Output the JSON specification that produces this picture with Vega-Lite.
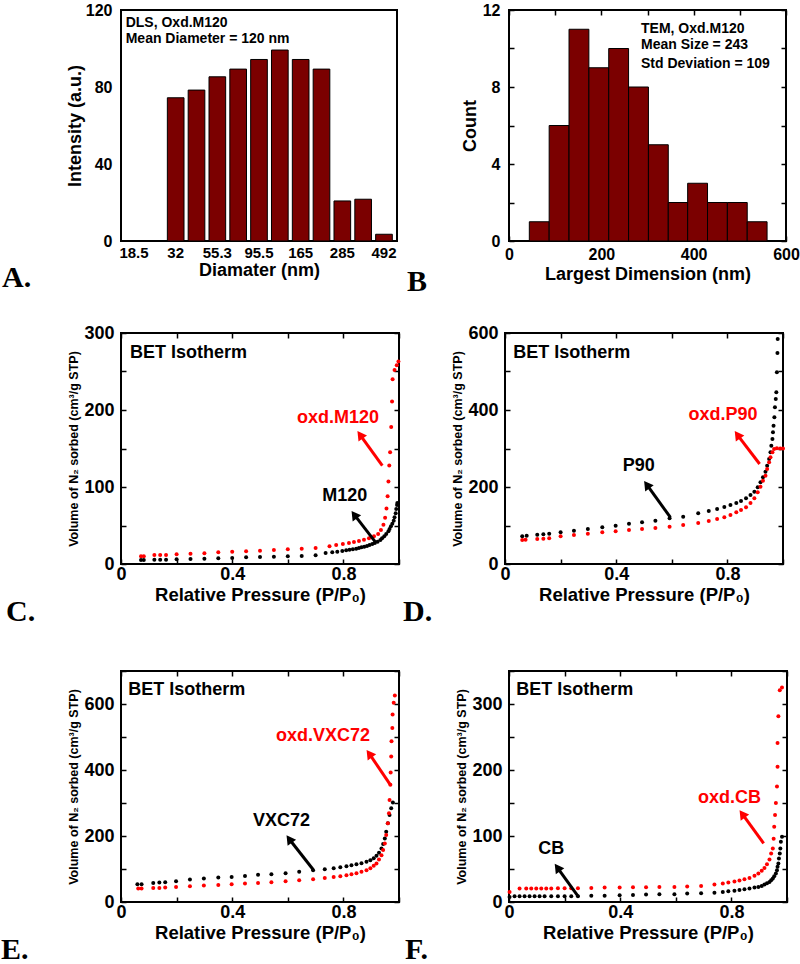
{
"$schema": "https://vega.github.io/schema/vega-lite/v6.json",
"background": "white",
"padding": {"left": 0, "top": 1, "right": 0, "bottom": 0},
"datasets": {
"dls": [{"diameter":"32","intensity":74.4},{"diameter":"42.1","intensity":78.4},{"diameter":"55.3","intensity":85.3},{"diameter":"72.7","intensity":89.3},{"diameter":"95.5","intensity":94.3},{"diameter":"125","intensity":99.2},{"diameter":"165","intensity":94.3},{"diameter":"218","intensity":89.3},{"diameter":"285","intensity":20.8},{"diameter":"376","intensity":21.7},{"diameter":"492","intensity":3.5}],
"dlsNotes": [{"cat":"18.5","y":113.4,"note":"DLS, Oxd.M120"},{"cat":"18.5","y":104.8,"note":"Mean Diameter  = 120 nm"}],
"tem": [{"start":44,"end":87,"count":1},{"start":87,"end":130,"count":6},{"start":130,"end":173,"count":11},{"start":173,"end":216,"count":9},{"start":216,"end":259,"count":10},{"start":259,"end":302,"count":8},{"start":302,"end":345,"count":5},{"start":345,"end":387,"count":2},{"start":387,"end":430,"count":3},{"start":430,"end":473,"count":2},{"start":473,"end":516,"count":2},{"start":516,"end":559,"count":1}],
"temNotes": [{"x":286,"y":11.03,"note":"TEM, Oxd.M120"},{"x":286,"y":10.17,"note":"Mean Size = 243"},{"x":286,"y":9.22,"note":"Std Deviation = 109"}],
"iso": [
{"panel":"C","kind":"oxidized","p":0.072,"v":10},{"panel":"C","kind":"oxidized","p":0.082,"v":10},{"panel":"C","kind":"oxidized","p":0.12,"v":11.7},{"panel":"C","kind":"oxidized","p":0.141,"v":11.7},{"panel":"C","kind":"oxidized","p":0.162,"v":11.7},{"panel":"C","kind":"oxidized","p":0.2,"v":12.6},{"panel":"C","kind":"oxidized","p":0.25,"v":13.4},{"panel":"C","kind":"oxidized","p":0.3,"v":13.9},{"panel":"C","kind":"oxidized","p":0.35,"v":15.2},{"panel":"C","kind":"oxidized","p":0.4,"v":16},{"panel":"C","kind":"oxidized","p":0.45,"v":16.5},{"panel":"C","kind":"oxidized","p":0.5,"v":17.3},{"panel":"C","kind":"oxidized","p":0.55,"v":18.2},{"panel":"C","kind":"oxidized","p":0.6,"v":19},{"panel":"C","kind":"oxidized","p":0.65,"v":19.9},{"panel":"C","kind":"oxidized","p":0.7,"v":20.8},{"panel":"C","kind":"oxidized","p":0.75,"v":23},{"panel":"C","kind":"oxidized","p":0.774,"v":24.7},{"panel":"C","kind":"oxidized","p":0.798,"v":26},{"panel":"C","kind":"oxidized","p":0.82,"v":27.3},{"panel":"C","kind":"oxidized","p":0.838,"v":28.6},{"panel":"C","kind":"oxidized","p":0.856,"v":29.9},{"panel":"C","kind":"oxidized","p":0.874,"v":31.6},{"panel":"C","kind":"oxidized","p":0.892,"v":33.3},{"panel":"C","kind":"oxidized","p":0.91,"v":35.9},{"panel":"C","kind":"oxidized","p":0.925,"v":39},{"panel":"C","kind":"oxidized","p":0.935,"v":44},{"panel":"C","kind":"oxidized","p":0.944,"v":51},{"panel":"C","kind":"oxidized","p":0.95,"v":60},{"panel":"C","kind":"oxidized","p":0.955,"v":72},{"panel":"C","kind":"oxidized","p":0.959,"v":88},{"panel":"C","kind":"oxidized","p":0.962,"v":107},{"panel":"C","kind":"oxidized","p":0.965,"v":128},{"panel":"C","kind":"oxidized","p":0.968,"v":145},{"panel":"C","kind":"oxidized","p":0.972,"v":178},{"panel":"C","kind":"oxidized","p":0.975,"v":211},{"panel":"C","kind":"oxidized","p":0.977,"v":240},{"panel":"C","kind":"oxidized","p":0.984,"v":252},{"panel":"C","kind":"oxidized","p":0.992,"v":258},{"panel":"C","kind":"oxidized","p":0.998,"v":263},
{"panel":"C","kind":"pristine","p":0.072,"v":5.2},{"panel":"C","kind":"pristine","p":0.082,"v":5.2},{"panel":"C","kind":"pristine","p":0.12,"v":5.6},{"panel":"C","kind":"pristine","p":0.141,"v":5.6},{"panel":"C","kind":"pristine","p":0.162,"v":5.6},{"panel":"C","kind":"pristine","p":0.2,"v":6.1},{"panel":"C","kind":"pristine","p":0.25,"v":6.5},{"panel":"C","kind":"pristine","p":0.3,"v":6.9},{"panel":"C","kind":"pristine","p":0.35,"v":7.4},{"panel":"C","kind":"pristine","p":0.4,"v":7.8},{"panel":"C","kind":"pristine","p":0.45,"v":8.7},{"panel":"C","kind":"pristine","p":0.5,"v":9.1},{"panel":"C","kind":"pristine","p":0.55,"v":9.5},{"panel":"C","kind":"pristine","p":0.6,"v":10},{"panel":"C","kind":"pristine","p":0.65,"v":10.4},{"panel":"C","kind":"pristine","p":0.7,"v":11.3},{"panel":"C","kind":"pristine","p":0.736,"v":14.3},{"panel":"C","kind":"pristine","p":0.76,"v":15.2},{"panel":"C","kind":"pristine","p":0.778,"v":16},{"panel":"C","kind":"pristine","p":0.796,"v":16.9},{"panel":"C","kind":"pristine","p":0.81,"v":17.7},{"panel":"C","kind":"pristine","p":0.822,"v":18.6},{"panel":"C","kind":"pristine","p":0.834,"v":19},{"panel":"C","kind":"pristine","p":0.846,"v":19.9},{"panel":"C","kind":"pristine","p":0.856,"v":20.8},{"panel":"C","kind":"pristine","p":0.865,"v":21.6},{"panel":"C","kind":"pristine","p":0.875,"v":22.5},{"panel":"C","kind":"pristine","p":0.885,"v":23.4},{"panel":"C","kind":"pristine","p":0.894,"v":24.7},{"panel":"C","kind":"pristine","p":0.904,"v":26},{"panel":"C","kind":"pristine","p":0.913,"v":27.3},{"panel":"C","kind":"pristine","p":0.923,"v":29},{"panel":"C","kind":"pristine","p":0.933,"v":31.2},{"panel":"C","kind":"pristine","p":0.939,"v":33.3},{"panel":"C","kind":"pristine","p":0.947,"v":35.9},{"panel":"C","kind":"pristine","p":0.954,"v":39},{"panel":"C","kind":"pristine","p":0.962,"v":42.4},{"panel":"C","kind":"pristine","p":0.966,"v":45.5},{"panel":"C","kind":"pristine","p":0.971,"v":48.9},{"panel":"C","kind":"pristine","p":0.976,"v":52.4},{"panel":"C","kind":"pristine","p":0.981,"v":56.3},{"panel":"C","kind":"pristine","p":0.984,"v":60.6},{"panel":"C","kind":"pristine","p":0.988,"v":65.8},{"panel":"C","kind":"pristine","p":0.99,"v":71.4},{"panel":"C","kind":"pristine","p":0.993,"v":76.6},{"panel":"C","kind":"pristine","p":0.994,"v":79.2},
{"panel":"D","kind":"pristine","p":0.062,"v":71.9},{"panel":"D","kind":"pristine","p":0.078,"v":73.6},{"panel":"D","kind":"pristine","p":0.116,"v":76.2},{"panel":"D","kind":"pristine","p":0.138,"v":77.1},{"panel":"D","kind":"pristine","p":0.159,"v":78.8},{"panel":"D","kind":"pristine","p":0.2,"v":82.3},{"panel":"D","kind":"pristine","p":0.248,"v":86.6},{"panel":"D","kind":"pristine","p":0.298,"v":90.9},{"panel":"D","kind":"pristine","p":0.35,"v":95.2},{"panel":"D","kind":"pristine","p":0.398,"v":99.6},{"panel":"D","kind":"pristine","p":0.446,"v":104.8},{"panel":"D","kind":"pristine","p":0.493,"v":108.2},{"panel":"D","kind":"pristine","p":0.541,"v":112.6},{"panel":"D","kind":"pristine","p":0.592,"v":118.6},{"panel":"D","kind":"pristine","p":0.641,"v":122.9},{"panel":"D","kind":"pristine","p":0.695,"v":131.6},{"panel":"D","kind":"pristine","p":0.733,"v":137.7},{"panel":"D","kind":"pristine","p":0.763,"v":142.9},{"panel":"D","kind":"pristine","p":0.789,"v":148},{"panel":"D","kind":"pristine","p":0.811,"v":153.2},{"panel":"D","kind":"pristine","p":0.832,"v":158.4},{"panel":"D","kind":"pristine","p":0.849,"v":163.6},{"panel":"D","kind":"pristine","p":0.867,"v":170.6},{"panel":"D","kind":"pristine","p":0.883,"v":179.2},{"panel":"D","kind":"pristine","p":0.897,"v":187.9},{"panel":"D","kind":"pristine","p":0.909,"v":199.1},{"panel":"D","kind":"pristine","p":0.919,"v":212.1},{"panel":"D","kind":"pristine","p":0.928,"v":225.1},{"panel":"D","kind":"pristine","p":0.937,"v":239.8},{"panel":"D","kind":"pristine","p":0.943,"v":255.4},{"panel":"D","kind":"pristine","p":0.95,"v":272.7},{"panel":"D","kind":"pristine","p":0.955,"v":290},{"panel":"D","kind":"pristine","p":0.958,"v":307.4},{"panel":"D","kind":"pristine","p":0.962,"v":324.7},{"panel":"D","kind":"pristine","p":0.964,"v":342},{"panel":"D","kind":"pristine","p":0.966,"v":359.3},{"panel":"D","kind":"pristine","p":0.969,"v":381},{"panel":"D","kind":"pristine","p":0.971,"v":406.9},{"panel":"D","kind":"pristine","p":0.974,"v":428.6},{"panel":"D","kind":"pristine","p":0.976,"v":445.9},{"panel":"D","kind":"pristine","p":0.978,"v":497.8},{"panel":"D","kind":"pristine","p":0.98,"v":548},{"panel":"D","kind":"pristine","p":0.981,"v":584.4},
{"panel":"D","kind":"oxidized","p":0.062,"v":62.3},{"panel":"D","kind":"oxidized","p":0.074,"v":63.2},{"panel":"D","kind":"oxidized","p":0.116,"v":64.9},{"panel":"D","kind":"oxidized","p":0.138,"v":65.8},{"panel":"D","kind":"oxidized","p":0.159,"v":66.7},{"panel":"D","kind":"oxidized","p":0.2,"v":71.9},{"panel":"D","kind":"oxidized","p":0.248,"v":75.3},{"panel":"D","kind":"oxidized","p":0.298,"v":78.8},{"panel":"D","kind":"oxidized","p":0.35,"v":82.3},{"panel":"D","kind":"oxidized","p":0.398,"v":84.8},{"panel":"D","kind":"oxidized","p":0.446,"v":88.3},{"panel":"D","kind":"oxidized","p":0.493,"v":90.9},{"panel":"D","kind":"oxidized","p":0.541,"v":93.5},{"panel":"D","kind":"oxidized","p":0.592,"v":97},{"panel":"D","kind":"oxidized","p":0.641,"v":101.3},{"panel":"D","kind":"oxidized","p":0.695,"v":106.5},{"panel":"D","kind":"oxidized","p":0.733,"v":111.7},{"panel":"D","kind":"oxidized","p":0.763,"v":116.9},{"panel":"D","kind":"oxidized","p":0.789,"v":121.2},{"panel":"D","kind":"oxidized","p":0.811,"v":127.3},{"panel":"D","kind":"oxidized","p":0.832,"v":134.2},{"panel":"D","kind":"oxidized","p":0.849,"v":140.3},{"panel":"D","kind":"oxidized","p":0.867,"v":147.2},{"panel":"D","kind":"oxidized","p":0.883,"v":158.4},{"panel":"D","kind":"oxidized","p":0.897,"v":170.6},{"panel":"D","kind":"oxidized","p":0.909,"v":186.1},{"panel":"D","kind":"oxidized","p":0.919,"v":200.9},{"panel":"D","kind":"oxidized","p":0.928,"v":216.5},{"panel":"D","kind":"oxidized","p":0.937,"v":229.4},{"panel":"D","kind":"oxidized","p":0.943,"v":246.8},{"panel":"D","kind":"oxidized","p":0.95,"v":264},{"panel":"D","kind":"oxidized","p":0.955,"v":277},{"panel":"D","kind":"oxidized","p":0.962,"v":290},{"panel":"D","kind":"oxidized","p":0.968,"v":298.7},{"panel":"D","kind":"oxidized","p":0.978,"v":300.4},{"panel":"D","kind":"oxidized","p":0.99,"v":300},{"panel":"D","kind":"oxidized","p":1.0,"v":300},
{"panel":"E","kind":"pristine","p":0.059,"v":53.8},{"panel":"E","kind":"pristine","p":0.074,"v":53.8},{"panel":"E","kind":"pristine","p":0.116,"v":57.8},{"panel":"E","kind":"pristine","p":0.138,"v":58.8},{"panel":"E","kind":"pristine","p":0.159,"v":59.9},{"panel":"E","kind":"pristine","p":0.198,"v":62.9},{"panel":"E","kind":"pristine","p":0.248,"v":68},{"panel":"E","kind":"pristine","p":0.298,"v":71},{"panel":"E","kind":"pristine","p":0.35,"v":74.1},{"panel":"E","kind":"pristine","p":0.398,"v":76.1},{"panel":"E","kind":"pristine","p":0.446,"v":79.1},{"panel":"E","kind":"pristine","p":0.493,"v":82.2},{"panel":"E","kind":"pristine","p":0.541,"v":84.2},{"panel":"E","kind":"pristine","p":0.592,"v":87.2},{"panel":"E","kind":"pristine","p":0.641,"v":91.3},{"panel":"E","kind":"pristine","p":0.691,"v":96.4},{"panel":"E","kind":"pristine","p":0.733,"v":99.4},{"panel":"E","kind":"pristine","p":0.765,"v":102.5},{"panel":"E","kind":"pristine","p":0.789,"v":105.5},{"panel":"E","kind":"pristine","p":0.811,"v":108.6},{"panel":"E","kind":"pristine","p":0.829,"v":111.6},{"panel":"E","kind":"pristine","p":0.847,"v":114.6},{"panel":"E","kind":"pristine","p":0.865,"v":117.7},{"panel":"E","kind":"pristine","p":0.883,"v":121.7},{"panel":"E","kind":"pristine","p":0.897,"v":126.8},{"panel":"E","kind":"pristine","p":0.909,"v":132.9},{"panel":"E","kind":"pristine","p":0.919,"v":140},{"panel":"E","kind":"pristine","p":0.928,"v":149.1},{"panel":"E","kind":"pristine","p":0.937,"v":162.3},{"panel":"E","kind":"pristine","p":0.943,"v":175.5},{"panel":"E","kind":"pristine","p":0.949,"v":192.8},{"panel":"E","kind":"pristine","p":0.954,"v":213},{"panel":"E","kind":"pristine","p":0.96,"v":238.4},{"panel":"E","kind":"pristine","p":0.966,"v":263.8},{"panel":"E","kind":"pristine","p":0.972,"v":284},{"panel":"E","kind":"pristine","p":0.978,"v":301.3},
{"panel":"E","kind":"oxidized","p":0.062,"v":40.6},{"panel":"E","kind":"oxidized","p":0.074,"v":40.6},{"panel":"E","kind":"oxidized","p":0.116,"v":42.6},{"panel":"E","kind":"oxidized","p":0.138,"v":42.6},{"panel":"E","kind":"oxidized","p":0.159,"v":43.6},{"panel":"E","kind":"oxidized","p":0.198,"v":45.7},{"panel":"E","kind":"oxidized","p":0.248,"v":47.7},{"panel":"E","kind":"oxidized","p":0.298,"v":49.7},{"panel":"E","kind":"oxidized","p":0.35,"v":51.7},{"panel":"E","kind":"oxidized","p":0.398,"v":53.8},{"panel":"E","kind":"oxidized","p":0.446,"v":55.8},{"panel":"E","kind":"oxidized","p":0.493,"v":57.8},{"panel":"E","kind":"oxidized","p":0.541,"v":59.9},{"panel":"E","kind":"oxidized","p":0.592,"v":62.9},{"panel":"E","kind":"oxidized","p":0.641,"v":65.9},{"panel":"E","kind":"oxidized","p":0.691,"v":69},{"panel":"E","kind":"oxidized","p":0.733,"v":73},{"panel":"E","kind":"oxidized","p":0.765,"v":76.1},{"panel":"E","kind":"oxidized","p":0.789,"v":78.1},{"panel":"E","kind":"oxidized","p":0.811,"v":81.2},{"panel":"E","kind":"oxidized","p":0.829,"v":84.2},{"panel":"E","kind":"oxidized","p":0.847,"v":87.2},{"panel":"E","kind":"oxidized","p":0.865,"v":91.3},{"panel":"E","kind":"oxidized","p":0.883,"v":96.4},{"panel":"E","kind":"oxidized","p":0.897,"v":102.5},{"panel":"E","kind":"oxidized","p":0.909,"v":109.6},{"panel":"E","kind":"oxidized","p":0.919,"v":116.7},{"panel":"E","kind":"oxidized","p":0.928,"v":128.8},{"panel":"E","kind":"oxidized","p":0.937,"v":142},{"panel":"E","kind":"oxidized","p":0.943,"v":157.2},{"panel":"E","kind":"oxidized","p":0.949,"v":177.5},{"panel":"E","kind":"oxidized","p":0.954,"v":202.9},{"panel":"E","kind":"oxidized","p":0.96,"v":238.4},{"panel":"E","kind":"oxidized","p":0.964,"v":268.8},{"panel":"E","kind":"oxidized","p":0.966,"v":309.4},{"panel":"E","kind":"oxidized","p":0.969,"v":355},{"panel":"E","kind":"oxidized","p":0.97,"v":392.6},{"panel":"E","kind":"oxidized","p":0.972,"v":441},{"panel":"E","kind":"oxidized","p":0.973,"v":487},{"panel":"E","kind":"oxidized","p":0.976,"v":527.5},{"panel":"E","kind":"oxidized","p":0.977,"v":568},{"panel":"E","kind":"oxidized","p":0.981,"v":603.6},{"panel":"E","kind":"oxidized","p":0.985,"v":626},
{"panel":"F","kind":"pristine","p":0.002,"v":7.6},{"panel":"F","kind":"pristine","p":0.02,"v":8.6},{"panel":"F","kind":"pristine","p":0.038,"v":8.6},{"panel":"F","kind":"pristine","p":0.056,"v":8.6},{"panel":"F","kind":"pristine","p":0.074,"v":8.6},{"panel":"F","kind":"pristine","p":0.092,"v":8.6},{"panel":"F","kind":"pristine","p":0.11,"v":8.6},{"panel":"F","kind":"pristine","p":0.128,"v":8.6},{"panel":"F","kind":"pristine","p":0.152,"v":8.6},{"panel":"F","kind":"pristine","p":0.176,"v":8.6},{"panel":"F","kind":"pristine","p":0.2,"v":8.6},{"panel":"F","kind":"pristine","p":0.224,"v":8.6},{"panel":"F","kind":"pristine","p":0.248,"v":8.6},{"panel":"F","kind":"pristine","p":0.296,"v":9.6},{"panel":"F","kind":"pristine","p":0.344,"v":9.6},{"panel":"F","kind":"pristine","p":0.398,"v":10.1},{"panel":"F","kind":"pristine","p":0.446,"v":10.7},{"panel":"F","kind":"pristine","p":0.493,"v":11.2},{"panel":"F","kind":"pristine","p":0.541,"v":11.7},{"panel":"F","kind":"pristine","p":0.595,"v":11.7},{"panel":"F","kind":"pristine","p":0.641,"v":12.7},{"panel":"F","kind":"pristine","p":0.691,"v":13.2},{"panel":"F","kind":"pristine","p":0.739,"v":14.2},{"panel":"F","kind":"pristine","p":0.769,"v":15.2},{"panel":"F","kind":"pristine","p":0.789,"v":16.2},{"panel":"F","kind":"pristine","p":0.811,"v":17.2},{"panel":"F","kind":"pristine","p":0.829,"v":18.3},{"panel":"F","kind":"pristine","p":0.847,"v":19.3},{"panel":"F","kind":"pristine","p":0.865,"v":20.3},{"panel":"F","kind":"pristine","p":0.883,"v":21.8},{"panel":"F","kind":"pristine","p":0.897,"v":22.8},{"panel":"F","kind":"pristine","p":0.909,"v":24.3},{"panel":"F","kind":"pristine","p":0.919,"v":26.4},{"panel":"F","kind":"pristine","p":0.928,"v":28.4},{"panel":"F","kind":"pristine","p":0.937,"v":30.4},{"panel":"F","kind":"pristine","p":0.943,"v":33},{"panel":"F","kind":"pristine","p":0.949,"v":35.5},{"panel":"F","kind":"pristine","p":0.954,"v":39.1},{"panel":"F","kind":"pristine","p":0.96,"v":43.1},{"panel":"F","kind":"pristine","p":0.964,"v":48.2},{"panel":"F","kind":"pristine","p":0.966,"v":53.3},{"panel":"F","kind":"pristine","p":0.969,"v":58.3},{"panel":"F","kind":"pristine","p":0.971,"v":65.9},{"panel":"F","kind":"pristine","p":0.974,"v":73.5},{"panel":"F","kind":"pristine","p":0.976,"v":81.2},{"panel":"F","kind":"pristine","p":0.978,"v":91.3},{"panel":"F","kind":"pristine","p":0.982,"v":98.9},
{"panel":"F","kind":"oxidized","p":0.002,"v":15.2},{"panel":"F","kind":"oxidized","p":0.038,"v":20.3},{"panel":"F","kind":"oxidized","p":0.062,"v":20.3},{"panel":"F","kind":"oxidized","p":0.08,"v":20.3},{"panel":"F","kind":"oxidized","p":0.098,"v":20.3},{"panel":"F","kind":"oxidized","p":0.116,"v":20.3},{"panel":"F","kind":"oxidized","p":0.134,"v":20.3},{"panel":"F","kind":"oxidized","p":0.152,"v":20.3},{"panel":"F","kind":"oxidized","p":0.176,"v":20.8},{"panel":"F","kind":"oxidized","p":0.2,"v":20.8},{"panel":"F","kind":"oxidized","p":0.224,"v":20.8},{"panel":"F","kind":"oxidized","p":0.248,"v":20.8},{"panel":"F","kind":"oxidized","p":0.296,"v":21.3},{"panel":"F","kind":"oxidized","p":0.344,"v":21.8},{"panel":"F","kind":"oxidized","p":0.398,"v":21.8},{"panel":"F","kind":"oxidized","p":0.446,"v":22.3},{"panel":"F","kind":"oxidized","p":0.493,"v":22.3},{"panel":"F","kind":"oxidized","p":0.541,"v":22.8},{"panel":"F","kind":"oxidized","p":0.595,"v":22.8},{"panel":"F","kind":"oxidized","p":0.641,"v":23.3},{"panel":"F","kind":"oxidized","p":0.691,"v":24.3},{"panel":"F","kind":"oxidized","p":0.739,"v":26.4},{"panel":"F","kind":"oxidized","p":0.769,"v":27.9},{"panel":"F","kind":"oxidized","p":0.789,"v":29.4},{"panel":"F","kind":"oxidized","p":0.811,"v":30.9},{"panel":"F","kind":"oxidized","p":0.829,"v":32.5},{"panel":"F","kind":"oxidized","p":0.847,"v":34.5},{"panel":"F","kind":"oxidized","p":0.865,"v":36.5},{"panel":"F","kind":"oxidized","p":0.883,"v":39.6},{"panel":"F","kind":"oxidized","p":0.897,"v":43.1},{"panel":"F","kind":"oxidized","p":0.909,"v":47.2},{"panel":"F","kind":"oxidized","p":0.919,"v":51.7},{"panel":"F","kind":"oxidized","p":0.928,"v":57.3},{"panel":"F","kind":"oxidized","p":0.937,"v":64.4},{"panel":"F","kind":"oxidized","p":0.943,"v":73.5},{"panel":"F","kind":"oxidized","p":0.949,"v":81},{"panel":"F","kind":"oxidized","p":0.952,"v":96},{"panel":"F","kind":"oxidized","p":0.954,"v":114},{"panel":"F","kind":"oxidized","p":0.957,"v":132},{"panel":"F","kind":"oxidized","p":0.96,"v":150},{"panel":"F","kind":"oxidized","p":0.964,"v":175},{"panel":"F","kind":"oxidized","p":0.966,"v":205},{"panel":"F","kind":"oxidized","p":0.966,"v":241},{"panel":"F","kind":"oxidized","p":0.969,"v":281.5},{"panel":"F","kind":"oxidized","p":0.974,"v":321},{"panel":"F","kind":"oxidized","p":0.982,"v":325}
],
"arrows": [
{"panel":"C","kind":"oxidized","p":0.94,"v":127.7,"p2":0.86,"v2":167.8},{"panel":"C","kind":"pristine","p":0.916,"v":28,"p2":0.839,"v2":64.1},
{"panel":"D","kind":"pristine","p":0.595,"v":121,"p2":0.51,"v2":206.1},{"panel":"D","kind":"oxidized","p":0.916,"v":259.7,"p2":0.836,"v2":335.6},
{"panel":"E","kind":"pristine","p":0.691,"v":98.4,"p2":0.605,"v2":190.8},{"panel":"E","kind":"oxidized","p":0.969,"v":355,"p2":0.893,"v2":449.5},
{"panel":"F","kind":"pristine","p":0.25,"v":7.6,"p2":0.174,"v2":52.2},{"panel":"F","kind":"oxidized","p":0.916,"v":88.8,"p2":0.839,"v2":133.4}
],
"labels": [
{"panel":"C","kind":"oxidized","text":"oxd.M120","p":0.781,"v":189},{"panel":"C","kind":"pristine","text":"M120","p":0.805,"v":88.7},
{"panel":"D","kind":"oxidized","text":"oxd.P90","p":0.784,"v":387},{"panel":"D","kind":"pristine","text":"P90","p":0.481,"v":255},
{"panel":"E","kind":"oxidized","text":"oxd.VXC72","p":0.727,"v":502},{"panel":"E","kind":"pristine","text":"VXC72","p":0.577,"v":246.5},
{"panel":"F","kind":"oxidized","text":"oxd.CB","p":0.793,"v":157.2},{"panel":"F","kind":"pristine","text":"CB","p":0.152,"v":79.6}
],
"frames": [
{"panel":"C","text":"BET Isotherm","p":0.032,"v":274},{"panel":"D","text":"BET Isotherm","p":0.03,"v":548},{"panel":"E","text":"BET Isotherm","p":0.026,"v":642},{"panel":"F","text":"BET Isotherm","p":0.026,"v":321}
]
},
"vconcat": [
{"concat": [
 {"width": 276, "height": 231,
  "title": {"text": "A.", "orient": "bottom", "anchor": "start", "frame": "group", "dx": -119, "offset": 8, "baseline": "alphabetic", "font": "Liberation Serif", "fontSize": 30, "fontWeight": "bold", "color": "#000"},
  "layer": [
   {"data": {"name": "dls"},
    "mark": {"type": "bar", "fill": "#7b0000", "stroke": "#000", "strokeWidth": 1},
    "encoding": {
     "x": {"field": "diameter", "type": "ordinal", "sort": null,
           "scale": {"domain": ["18.5","24.4","32","42.1","55.3","72.7","95.5","125","165","218","285","376","492"], "paddingInner": 0.2, "paddingOuter": 0.225},
           "axis": {"values": ["18.5","32","55.3","95.5","165","285","492"], "labelAngle": 0, "ticks": false, "labelPadding": 4, "labelFontSize": 15, "title": "Diamater (nm)", "titleFontSize": 18, "titlePadding": 1}},
     "y": {"field": "intensity", "type": "quantitative", "scale": {"domain": [0, 120], "nice": false},
           "axis": {"values": [0, 40, 80, 120], "ticks": false, "labelPadding": 9, "labelFontSize": 16, "title": "Intensity (a.u.)", "titleFontSize": 18, "titlePadding": 1}}
    }},
   {"data": {"name": "dlsNotes"},
    "mark": {"type": "text", "align": "left", "baseline": "middle", "fontSize": 14, "fontWeight": "bold", "font": "Liberation Sans", "color": "#000"},
    "encoding": {
     "x": {"field": "cat", "type": "ordinal", "bandPosition": 0},
     "y": {"field": "y", "type": "quantitative"},
     "text": {"field": "note"}
    }}
  ]},
 {"width": 277, "height": 231,
  "title": {"text": "B", "orient": "bottom", "anchor": "start", "frame": "group", "dx": -102, "offset": 8, "baseline": "alphabetic", "font": "Liberation Serif", "fontSize": 30, "fontWeight": "bold", "color": "#000"},
  "resolve": {"axis": {"x": "independent", "y": "independent"}},
  "layer": [
   {"data": {"name": "tem"},
    "mark": {"type": "bar", "fill": "#7b0000", "stroke": "#000", "strokeWidth": 1},
    "encoding": {
     "x": {"field": "start", "type": "quantitative", "scale": {"domain": [0, 600], "nice": false},
           "axis": {"orient": "bottom", "values": [0,100,200,300,400,500,600], "labelExpr": "indexof([0,200,400,600], datum.value) >= 0 ? datum.label : ''", "tickSize": -5, "tickWidth": 1.5, "labelPadding": 10, "labelFontSize": 16, "title": "Largest Dimension (nm)", "titleFontSize": 18, "titlePadding": 3}},
     "x2": {"field": "end"},
     "y": {"field": "count", "type": "quantitative", "scale": {"domain": [0, 12], "nice": false},
           "axis": {"orient": "left", "values": [0,2,4,6,8,10,12], "labelExpr": "indexof([0,4,8,12], datum.value) >= 0 ? datum.label : ''", "tickSize": -5, "tickWidth": 1.5, "labelPadding": 14, "labelFontSize": 16, "title": "Count", "titleFontSize": 18, "titlePadding": 3}},
     "y2": {"datum": 0}
    }},
   {"data": {"name": "temNotes"},
    "mark": {"type": "text", "align": "left", "baseline": "middle", "fontSize": 14, "fontWeight": "bold", "font": "Liberation Sans", "color": "#000"},
    "encoding": {
     "x": {"field": "x", "type": "quantitative", "axis": {"orient": "top", "values": [0,100,200,300,400,500,600], "labels": false, "tickSize": -5, "tickWidth": 1.5, "title": null}},
     "y": {"field": "y", "type": "quantitative", "axis": {"orient": "right", "values": [0,2,4,6,8,10,12], "labels": false, "tickSize": -5, "tickWidth": 1.5, "title": null}},
     "text": {"field": "note"}
    }}
  ]}
], "columns": 2, "align": "none", "spacing": 8},
{"vconcat": [
 {"concat": [
  {"width": 278, "height": 231,
   "title": {"text": "C.", "orient": "bottom", "anchor": "start", "frame": "group", "dx": -115, "offset": 17, "baseline": "alphabetic", "font": "Liberation Serif", "fontSize": 30, "fontWeight": "bold", "color": "#000"},
   "resolve": {"axis": {"x": "independent", "y": "independent"}},
   "layer": [
    {"data": {"name": "iso"}, "transform": [{"filter": "datum.panel === 'C'"}],
     "mark": {"type": "circle", "size": 16, "opacity": 1},
     "encoding": {
      "x": {"field": "p", "type": "quantitative", "scale": {"domain": [0, 1], "nice": false, "zero": false},
            "axis": {"orient": "bottom", "values": [0,0.2,0.4,0.6,0.8,1], "format": "~g", "labelExpr": "indexof([0,0.4,0.8], datum.value) >= 0 ? datum.label : ''", "tickSize": -5, "tickWidth": 1.5, "labelPadding": 6, "labelFontSize": 18, "title": "Relative Pressure (P/P₀)", "titleFontSize": 18.5, "titlePadding": 2}},
      "y": {"field": "v", "type": "quantitative", "scale": {"domain": [0, 300], "nice": false},
            "axis": {"orient": "left", "values": [0,50,100,150,200,250,300], "labelExpr": "indexof([0,100,200,300], datum.value) >= 0 ? datum.label : ''", "tickSize": -5, "tickWidth": 1.5, "labelPadding": 12, "labelFontSize": 18, "title": "Volume of N₂ sorbed (cm³/g STP)", "titleFontSize": 12.5, "titlePadding": 3}},
      "color": {"field": "kind", "type": "nominal", "scale": {"domain": ["oxidized", "pristine"], "range": ["#ff0000", "#000000"]}, "legend": null}
     }},
    {"data": {"name": "arrows"}, "transform": [{"filter": "datum.panel === 'C'"}],
     "mark": {"type": "rule", "strokeWidth": 3},
     "encoding": {"x": {"field": "p", "type": "quantitative", "axis": null}, "y": {"field": "v", "type": "quantitative", "axis": null}, "x2": {"field": "p2"}, "y2": {"field": "v2"}, "color": {"field": "kind", "type": "nominal", "legend": null}}},
    {"data": {"name": "arrows"}, "transform": [{"filter": "datum.panel === 'C'"}],
     "mark": {"type": "point", "shape": "triangle-up", "filled": true, "size": 110, "angle": -36, "opacity": 1},
     "encoding": {"x": {"field": "p2", "type": "quantitative", "axis": null}, "y": {"field": "v2", "type": "quantitative", "axis": null}, "color": {"field": "kind", "type": "nominal", "legend": null}}},
    {"data": {"name": "labels"}, "transform": [{"filter": "datum.panel === 'C'"}],
     "mark": {"type": "text", "align": "center", "baseline": "middle", "fontSize": 18, "fontWeight": "bold", "font": "Liberation Sans"},
     "encoding": {"x": {"field": "p", "type": "quantitative", "axis": null}, "y": {"field": "v", "type": "quantitative", "axis": null}, "text": {"field": "text"}, "color": {"field": "kind", "type": "nominal", "legend": null}}},
    {"data": {"name": "frames"}, "transform": [{"filter": "datum.panel === 'C'"}],
     "mark": {"type": "text", "align": "left", "baseline": "middle", "fontSize": 18, "fontWeight": "bold", "font": "Liberation Sans", "color": "#000"},
     "encoding": {
      "x": {"field": "p", "type": "quantitative", "axis": {"orient": "top", "values": [0,0.2,0.4,0.6,0.8,1], "labels": false, "tickSize": -5, "tickWidth": 1.5, "title": null}},
      "y": {"field": "v", "type": "quantitative", "axis": {"orient": "right", "values": [0,50,100,150,200,250,300], "labels": false, "tickSize": -5, "tickWidth": 1.5, "title": null}},
      "text": {"field": "text"}}}
   ]},
  {"width": 278, "height": 231,
   "title": {"text": "D.", "orient": "bottom", "anchor": "start", "frame": "group", "dx": -102, "offset": 17, "baseline": "alphabetic", "font": "Liberation Serif", "fontSize": 30, "fontWeight": "bold", "color": "#000"},
   "resolve": {"axis": {"x": "independent", "y": "independent"}},
   "layer": [
    {"data": {"name": "iso"}, "transform": [{"filter": "datum.panel === 'D'"}],
     "mark": {"type": "circle", "size": 16, "opacity": 1},
     "encoding": {
      "x": {"field": "p", "type": "quantitative", "scale": {"domain": [0, 1], "nice": false, "zero": false},
            "axis": {"orient": "bottom", "values": [0,0.2,0.4,0.6,0.8,1], "format": "~g", "labelExpr": "indexof([0,0.4,0.8], datum.value) >= 0 ? datum.label : ''", "tickSize": -5, "tickWidth": 1.5, "labelPadding": 6, "labelFontSize": 18, "title": "Relative Pressure (P/P₀)", "titleFontSize": 18.5, "titlePadding": 2}},
      "y": {"field": "v", "type": "quantitative", "scale": {"domain": [0, 600], "nice": false},
            "axis": {"orient": "left", "values": [0,100,200,300,400,500,600], "labelExpr": "indexof([0,200,400,600], datum.value) >= 0 ? datum.label : ''", "tickSize": -5, "tickWidth": 1.5, "labelPadding": 12, "labelFontSize": 18, "title": "Volume of N₂ sorbed (cm³/g STP)", "titleFontSize": 12.5, "titlePadding": 3}},
      "color": {"field": "kind", "type": "nominal", "scale": {"domain": ["oxidized", "pristine"], "range": ["#ff0000", "#000000"]}, "legend": null}
     }},
    {"data": {"name": "arrows"}, "transform": [{"filter": "datum.panel === 'D'"}],
     "mark": {"type": "rule", "strokeWidth": 3},
     "encoding": {"x": {"field": "p", "type": "quantitative", "axis": null}, "y": {"field": "v", "type": "quantitative", "axis": null}, "x2": {"field": "p2"}, "y2": {"field": "v2"}, "color": {"field": "kind", "type": "nominal", "legend": null}}},
    {"data": {"name": "arrows"}, "transform": [{"filter": "datum.panel === 'D'"}],
     "mark": {"type": "point", "shape": "triangle-up", "filled": true, "size": 110, "angle": -36, "opacity": 1},
     "encoding": {"x": {"field": "p2", "type": "quantitative", "axis": null}, "y": {"field": "v2", "type": "quantitative", "axis": null}, "color": {"field": "kind", "type": "nominal", "legend": null}}},
    {"data": {"name": "labels"}, "transform": [{"filter": "datum.panel === 'D'"}],
     "mark": {"type": "text", "align": "center", "baseline": "middle", "fontSize": 18, "fontWeight": "bold", "font": "Liberation Sans"},
     "encoding": {"x": {"field": "p", "type": "quantitative", "axis": null}, "y": {"field": "v", "type": "quantitative", "axis": null}, "text": {"field": "text"}, "color": {"field": "kind", "type": "nominal", "legend": null}}},
    {"data": {"name": "frames"}, "transform": [{"filter": "datum.panel === 'D'"}],
     "mark": {"type": "text", "align": "left", "baseline": "middle", "fontSize": 18, "fontWeight": "bold", "font": "Liberation Sans", "color": "#000"},
     "encoding": {
      "x": {"field": "p", "type": "quantitative", "axis": {"orient": "top", "values": [0,0.2,0.4,0.6,0.8,1], "labels": false, "tickSize": -5, "tickWidth": 1.5, "title": null}},
      "y": {"field": "v", "type": "quantitative", "axis": {"orient": "right", "values": [0,100,200,300,400,500,600], "labels": false, "tickSize": -5, "tickWidth": 1.5, "title": null}},
      "text": {"field": "text"}}}
   ]}
 ], "columns": 2, "align": "none", "spacing": 0},
 {"concat": [
  {"width": 278, "height": 231,
   "title": {"text": "E.", "orient": "bottom", "anchor": "start", "frame": "group", "dx": -120, "offset": 17, "baseline": "alphabetic", "font": "Liberation Serif", "fontSize": 30, "fontWeight": "bold", "color": "#000"},
   "resolve": {"axis": {"x": "independent", "y": "independent"}},
   "layer": [
    {"data": {"name": "iso"}, "transform": [{"filter": "datum.panel === 'E'"}],
     "mark": {"type": "circle", "size": 16, "opacity": 1},
     "encoding": {
      "x": {"field": "p", "type": "quantitative", "scale": {"domain": [0, 1], "nice": false, "zero": false},
            "axis": {"orient": "bottom", "values": [0,0.2,0.4,0.6,0.8,1], "format": "~g", "labelExpr": "indexof([0,0.4,0.8], datum.value) >= 0 ? datum.label : ''", "tickSize": -5, "tickWidth": 1.5, "labelPadding": 6, "labelFontSize": 18, "title": "Relative Pressure (P/P₀)", "titleFontSize": 18.5, "titlePadding": 2}},
      "y": {"field": "v", "type": "quantitative", "scale": {"domain": [0, 700], "nice": false},
            "axis": {"orient": "left", "values": [0,100,200,300,400,500,600,700], "labelExpr": "indexof([0,200,400,600], datum.value) >= 0 ? datum.label : ''", "tickSize": -5, "tickWidth": 1.5, "labelPadding": 12, "labelFontSize": 18, "title": "Volume of N₂ sorbed (cm³/g STP)", "titleFontSize": 12.5, "titlePadding": 3}},
      "color": {"field": "kind", "type": "nominal", "scale": {"domain": ["oxidized", "pristine"], "range": ["#ff0000", "#000000"]}, "legend": null}
     }},
    {"data": {"name": "arrows"}, "transform": [{"filter": "datum.panel === 'E'"}],
     "mark": {"type": "rule", "strokeWidth": 3},
     "encoding": {"x": {"field": "p", "type": "quantitative", "axis": null}, "y": {"field": "v", "type": "quantitative", "axis": null}, "x2": {"field": "p2"}, "y2": {"field": "v2"}, "color": {"field": "kind", "type": "nominal", "legend": null}}},
    {"data": {"name": "arrows"}, "transform": [{"filter": "datum.panel === 'E'"}],
     "mark": {"type": "point", "shape": "triangle-up", "filled": true, "size": 110, "angle": -36, "opacity": 1},
     "encoding": {"x": {"field": "p2", "type": "quantitative", "axis": null}, "y": {"field": "v2", "type": "quantitative", "axis": null}, "color": {"field": "kind", "type": "nominal", "legend": null}}},
    {"data": {"name": "labels"}, "transform": [{"filter": "datum.panel === 'E'"}],
     "mark": {"type": "text", "align": "center", "baseline": "middle", "fontSize": 18, "fontWeight": "bold", "font": "Liberation Sans"},
     "encoding": {"x": {"field": "p", "type": "quantitative", "axis": null}, "y": {"field": "v", "type": "quantitative", "axis": null}, "text": {"field": "text"}, "color": {"field": "kind", "type": "nominal", "legend": null}}},
    {"data": {"name": "frames"}, "transform": [{"filter": "datum.panel === 'E'"}],
     "mark": {"type": "text", "align": "left", "baseline": "middle", "fontSize": 18, "fontWeight": "bold", "font": "Liberation Sans", "color": "#000"},
     "encoding": {
      "x": {"field": "p", "type": "quantitative", "axis": {"orient": "top", "values": [0,0.2,0.4,0.6,0.8,1], "labels": false, "tickSize": -5, "tickWidth": 1.5, "title": null}},
      "y": {"field": "v", "type": "quantitative", "axis": {"orient": "right", "values": [0,100,200,300,400,500,600,700], "labels": false, "tickSize": -5, "tickWidth": 1.5, "title": null}},
      "text": {"field": "text"}}}
   ]},
  {"width": 278, "height": 231,
   "title": {"text": "F.", "orient": "bottom", "anchor": "start", "frame": "group", "dx": -104, "offset": 17, "baseline": "alphabetic", "font": "Liberation Serif", "fontSize": 30, "fontWeight": "bold", "color": "#000"},
   "resolve": {"axis": {"x": "independent", "y": "independent"}},
   "layer": [
    {"data": {"name": "iso"}, "transform": [{"filter": "datum.panel === 'F'"}],
     "mark": {"type": "circle", "size": 16, "opacity": 1},
     "encoding": {
      "x": {"field": "p", "type": "quantitative", "scale": {"domain": [0, 1], "nice": false, "zero": false},
            "axis": {"orient": "bottom", "values": [0,0.2,0.4,0.6,0.8,1], "format": "~g", "labelExpr": "indexof([0,0.4,0.8], datum.value) >= 0 ? datum.label : ''", "tickSize": -5, "tickWidth": 1.5, "labelPadding": 6, "labelFontSize": 18, "title": "Relative Pressure (P/P₀)", "titleFontSize": 18.5, "titlePadding": 2}},
      "y": {"field": "v", "type": "quantitative", "scale": {"domain": [0, 350], "nice": false},
            "axis": {"orient": "left", "values": [0,50,100,150,200,250,300,350], "labelExpr": "indexof([0,100,200,300], datum.value) >= 0 ? datum.label : ''", "tickSize": -5, "tickWidth": 1.5, "labelPadding": 12, "labelFontSize": 18, "title": "Volume of N₂ sorbed (cm³/g STP)", "titleFontSize": 12.5, "titlePadding": 3}},
      "color": {"field": "kind", "type": "nominal", "scale": {"domain": ["oxidized", "pristine"], "range": ["#ff0000", "#000000"]}, "legend": null}
     }},
    {"data": {"name": "arrows"}, "transform": [{"filter": "datum.panel === 'F'"}],
     "mark": {"type": "rule", "strokeWidth": 3},
     "encoding": {"x": {"field": "p", "type": "quantitative", "axis": null}, "y": {"field": "v", "type": "quantitative", "axis": null}, "x2": {"field": "p2"}, "y2": {"field": "v2"}, "color": {"field": "kind", "type": "nominal", "legend": null}}},
    {"data": {"name": "arrows"}, "transform": [{"filter": "datum.panel === 'F'"}],
     "mark": {"type": "point", "shape": "triangle-up", "filled": true, "size": 110, "angle": -36, "opacity": 1},
     "encoding": {"x": {"field": "p2", "type": "quantitative", "axis": null}, "y": {"field": "v2", "type": "quantitative", "axis": null}, "color": {"field": "kind", "type": "nominal", "legend": null}}},
    {"data": {"name": "labels"}, "transform": [{"filter": "datum.panel === 'F'"}],
     "mark": {"type": "text", "align": "center", "baseline": "middle", "fontSize": 18, "fontWeight": "bold", "font": "Liberation Sans"},
     "encoding": {"x": {"field": "p", "type": "quantitative", "axis": null}, "y": {"field": "v", "type": "quantitative", "axis": null}, "text": {"field": "text"}, "color": {"field": "kind", "type": "nominal", "legend": null}}},
    {"data": {"name": "frames"}, "transform": [{"filter": "datum.panel === 'F'"}],
     "mark": {"type": "text", "align": "left", "baseline": "middle", "fontSize": 18, "fontWeight": "bold", "font": "Liberation Sans", "color": "#000"},
     "encoding": {
      "x": {"field": "p", "type": "quantitative", "axis": {"orient": "top", "values": [0,0.2,0.4,0.6,0.8,1], "labels": false, "tickSize": -5, "tickWidth": 1.5, "title": null}},
      "y": {"field": "v", "type": "quantitative", "axis": {"orient": "right", "values": [0,50,100,150,200,250,300,350], "labels": false, "tickSize": -5, "tickWidth": 1.5, "title": null}},
      "text": {"field": "text"}}}
   ]}
 ], "columns": 2, "align": "none", "spacing": 3}
], "spacing": 33}
],
"spacing": 25,
"config": {
 "view": {"stroke": "#000", "strokeWidth": 2},
 "font": "Liberation Sans",
 "axis": {"domain": false, "grid": false, "labelFont": "Liberation Sans", "labelFontWeight": "bold", "labelColor": "#000", "titleFont": "Liberation Sans", "titleFontWeight": "bold", "titleColor": "#000", "tickColor": "#000", "labelFlush": false, "labelOverlap": false}
}
}
